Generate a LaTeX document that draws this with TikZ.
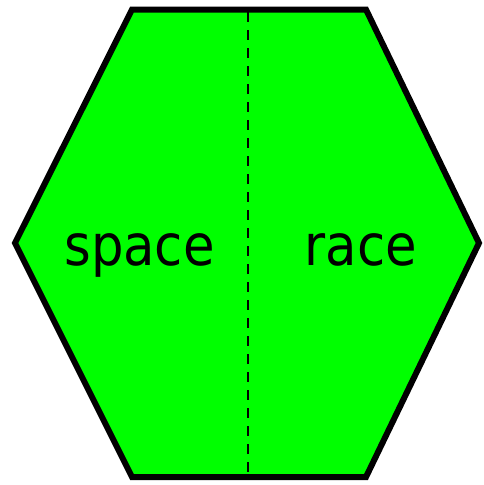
\documentclass[tikz,border=0pt]{standalone}
\usepackage{fontspec}
\setmainfont{DejaVu Sans Condensed}
\definecolor{hexgreen}{HTML}{00FF00}
\begin{document}
\begin{tikzpicture}[x=1pt,y=-1pt,
  hexstyle/.style={fill=hexgreen,draw=black,line width=6pt,line join=miter},
  divider/.style={draw=black,line width=2.5pt,dash pattern=on 10pt off 8pt},
  word/.style={anchor=base,inner sep=0pt,font=\fontsize{57}{60}\selectfont}]
\useasboundingbox (0,0) rectangle (483,485);
\coordinate (tl) at (132,9.5);
\coordinate (tr) at (366,9.5);
\coordinate (r) at (479,243);
\coordinate (br) at (366,477);
\coordinate (bl) at (132,477);
\coordinate (l) at (15,243);
\draw[hexstyle] (tl) -- (tr) -- (r) -- (br) -- (bl) -- (l) -- cycle;
\coordinate (dtop) at (248,12);
\coordinate (dbot) at (248,474);
\draw[divider] (dtop) -- (dbot);
\node[word] (space) at (139.5,265) {space};
\node[word] (race) at (361,265) {race};
\end{tikzpicture}
\end{document}
